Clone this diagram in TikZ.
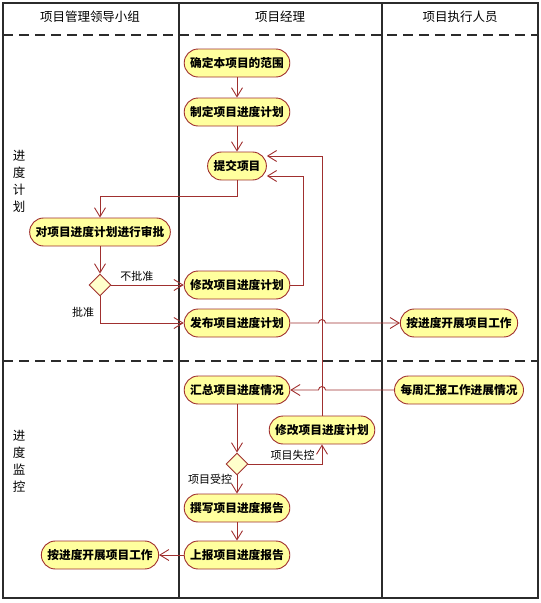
\documentclass[tikz,border=0pt]{standalone}
\usepackage{fontspec}
\setmainfont{Noto Sans CJK SC}
\usetikzlibrary{arrows.meta,shapes.geometric,positioning}
\definecolor{actred}{HTML}{A0302F}
\definecolor{actfill}{HTML}{FFFF9E}
\definecolor{choicefill}{HTML}{FFFFCC}
\definecolor{lanegray}{HTML}{2B2B2B}
\tikzset{
  act/.style={draw=actred,line width=0.9pt,fill=actfill,rounded corners=14pt,minimum height=28pt,inner xsep=6pt,inner ysep=0pt,font=\bfseries\fontsize{11.7}{13}\selectfont},
  choice/.style={diamond,draw=actred,line width=0.9pt,fill=choicefill,minimum size=22pt,inner sep=0pt},
  flow/.style={draw=actred,line width=0.9pt,-{Straight Barb[length=9pt,width=11pt]}},
  lane/.style={draw=lanegray,line width=1.4pt},
  lanesep/.style={draw=lanegray,line width=1.4pt,dash pattern=on 10pt off 6pt},
  guard/.style={font=\fontsize{11}{12}\selectfont},
  rowtitle/.style={align=center,font=\fontsize{12.5}{17}\selectfont}
}
\begin{document}
\begin{tikzpicture}[x=1pt,y=1pt]
    \useasboundingbox (0,0) rectangle (541,-603);
    % swimlanes
    \draw[lane] (3,-3) rectangle (538,-598);
    \draw[lane] (179,-3) -- (179,-598);
    \draw[lane] (382,-3) -- (382,-598);
    \draw[lanesep] (3,-35) -- (538,-35);
    \draw[lanesep] (3,-361) -- (538,-361);
    \node[font=\fontsize{12.5}{13}\selectfont] (headA) at (90,-17) {项目管理领导小组};
    \node[font=\fontsize{12.5}{13}\selectfont] (headB) at (280,-17) {项目经理};
    \node[font=\fontsize{12.5}{13}\selectfont] (headC) at (460,-17) {项目执行人员};
    \node[rowtitle] (rowplan) at (19,-181) {进\\度\\计\\划};
    \node[rowtitle] (rowmon) at (19,-461) {进\\度\\监\\控};
    % activities
    \node[act] (queding) at (237,-63) {确定本项目的范围};
    \node[act] (zhiding) at (237,-112) {制定项目进度计划};
    \node[act] (tijiao) at (237,-166) {提交项目};
    \node[act] (shenpi) at (100,-232) {对项目进度计划进行审批};
    \node[choice] (pizhun) at (100,-285) {};
    \node[act] (xiugai) at (237,-285) {修改项目进度计划};
    \node[act] (fabu) at (237,-323) {发布项目进度计划};
    \node[act] (kaizhanB) at (459,-323) {按进度开展项目工作};
    \node[act] (huizong) at (237,-390) {汇总项目进度情况};
    \node[act] (huibao) at (459,-390) {每周汇报工作进展情况};
    \node[act] (tiaozheng) at (322,-430) {修改项目进度计划};
    \node[choice] (kongzhi) at (237,-464) {};
    \node[act] (zhuanxie) at (237,-508) {撰写项目进度报告};
    \node[act] (shangbao) at (237,-555) {上报项目进度报告};
    \node[act] (kaizhanA) at (100,-555) {按进度开展项目工作};
    % crossings of the line at x=322
    \coordinate (hopA) at (322,-323);
    \coordinate (hopB) at (322,-390);
    % flows
    \draw[flow] (queding) -- (zhiding);
    \draw[flow] (zhiding) -- (tijiao);
    \draw[flow] (tijiao.south) -- ++(0,-16) -| (shenpi.north);
    \draw[flow] (shenpi) -- (pizhun);
    \draw[flow] (pizhun.east) -- (xiugai.west) node[guard,pos=0.35,above] {不批准};
    \draw[flow] (pizhun.south) |- (fabu.west) node[guard,pos=0.3,left=2pt] {批准};
    \draw[flow] (xiugai.east) -- ++(13,0) |- ([yshift=-10pt]tijiao.east);
    \draw[flow] (tiaozheng.north) |- ([yshift=10pt]tijiao.east);
    \draw[flow] (fabu.east) -- ([xshift=-3.5pt]hopA) arc[start angle=180,end angle=0,radius=3.5pt] -- (kaizhanB.west);
    \draw[flow] (huibao.west) -- ([xshift=3.5pt]hopB) arc[start angle=0,end angle=180,radius=3.5pt] -- (huizong.east);
    \draw[flow] (huizong) -- (kongzhi);
    \draw[flow] (kongzhi.east) -| (tiaozheng.south) node[guard,pos=0.3,above] {项目失控};
    \draw[flow] (kongzhi.south) -- (zhuanxie.north) node[guard,pos=0.2,left=1pt] {项目受控};
    \draw[flow] (zhuanxie) -- (shangbao);
    \draw[flow] (shangbao) -- (kaizhanA);
\end{tikzpicture}
\end{document}
